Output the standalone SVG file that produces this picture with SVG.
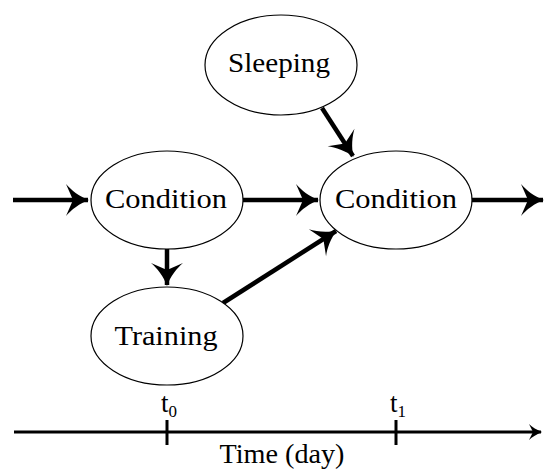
<svg xmlns="http://www.w3.org/2000/svg" width="544" height="469" viewBox="0 0 544 469">
<style>
.node ellipse{fill:#fff;stroke:#000;stroke-width:1.2}
text{font-family:'Liberation Serif','Times New Roman',serif;font-size:27px;fill:#000}
.lbl{text-anchor:middle}
.edge{stroke:#000;stroke-width:4.5;fill:none}
.axis{stroke:#000;stroke-width:3;fill:none}
</style>
<defs>
<marker id="arr" markerUnits="userSpaceOnUse" viewBox="-26 -18 28 36" refX="0" refY="0" markerWidth="28" markerHeight="36" orient="auto">
<path d="M1,0 C-8,-3 -17,-10 -22,-16 L-15,0 L-22,16 C-17,10 -8,3 1,0 Z" fill="#000"/>
</marker>
<marker id="arrs" markerUnits="userSpaceOnUse" viewBox="-16 -10 18 20" refX="0" refY="0" markerWidth="18" markerHeight="20" orient="auto">
<path d="M1,0 C-4,-2 -9,-5 -12,-8 L-8,0 L-12,8 C-9,5 -4,2 1,0 Z" fill="#000"/>
</marker>
</defs>
<g id="connectors">
<line class="edge" x1="13" y1="200" x2="88" y2="200" marker-end="url(#arr)"/>
<line class="edge" x1="243" y1="200" x2="318" y2="200" marker-end="url(#arr)"/>
<line class="edge" x1="471" y1="200" x2="543" y2="200" marker-end="url(#arr)"/>
<line class="edge" x1="322" y1="108" x2="353" y2="156" marker-end="url(#arr)"/>
<line class="edge" x1="167" y1="249" x2="167" y2="285" marker-end="url(#arr)"/>
<line class="edge" x1="223" y1="303" x2="336" y2="231" marker-end="url(#arr)"/>
</g>
<g id="node-sleeping" class="node"><ellipse cx="281" cy="65" rx="76" ry="50"/><text class="lbl" x="279" y="72" textLength="102" lengthAdjust="spacingAndGlyphs">Sleeping</text></g>
<g id="node-condition1" class="node"><ellipse cx="167" cy="200" rx="76" ry="49"/><text class="lbl" x="166" y="208" textLength="122" lengthAdjust="spacingAndGlyphs">Condition</text></g>
<g id="node-condition2" class="node"><ellipse cx="396" cy="200" rx="76" ry="49"/><text class="lbl" x="396" y="208" textLength="122" lengthAdjust="spacingAndGlyphs">Condition</text></g>
<g id="node-training" class="node"><ellipse cx="167" cy="336" rx="76" ry="49"/><text class="lbl" x="166" y="345" textLength="103" lengthAdjust="spacingAndGlyphs">Training</text></g>
<g id="timeline">
<line class="axis" x1="14" y1="432" x2="541" y2="432" marker-end="url(#arrs)"/>
<line class="axis" x1="167" y1="420" x2="167" y2="445"/>
<line class="axis" x1="396" y1="420" x2="396" y2="445"/>
<text x="161" y="412">t<tspan font-size="17" dy="5">0</tspan></text>
<text x="390" y="412">t<tspan font-size="17" dy="5">1</tspan></text>
<text class="lbl" x="282" y="463" textLength="125" lengthAdjust="spacingAndGlyphs">Time (day)</text>
</g>
</svg>
